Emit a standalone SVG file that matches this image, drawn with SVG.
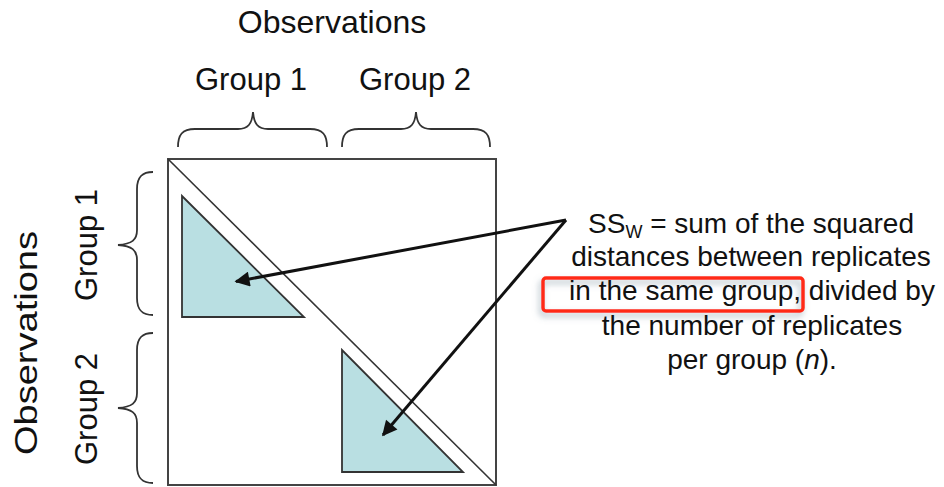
<svg xmlns="http://www.w3.org/2000/svg" width="944" height="487" viewBox="0 0 944 487">
<style>
text{font-family:"Liberation Sans",Arial,sans-serif;fill:#111}
.lab{font-size:31px}
.big{font-size:32px}
.note{font-size:28px;text-anchor:middle}
.brace{fill:none;stroke:#333;stroke-width:1.8}
.tri{fill:#b9dfe2;stroke:#333;stroke-width:1.8}
.frame{fill:#fff;stroke:#444;stroke-width:2}
.arrow{stroke:#111;stroke-width:3;fill:none;marker-end:url(#ah)}
</style>
<defs>
<marker id="ah" viewBox="0 0 10 10" refX="9" refY="5" markerWidth="5.5" markerHeight="5" orient="auto" markerUnits="strokeWidth">
<path d="M0,0 L10,5 L0,10 Z" fill="#111"/>
</marker>
<filter id="sh" x="-10%" y="-40%" width="120%" height="180%">
<feDropShadow dx="-2" dy="4" stdDeviation="3" flood-color="#6f8797" flood-opacity="0.55"/>
</filter>
</defs>
<rect width="944" height="487" fill="#fff"/>

<g id="title-top"><text class="big" x="332" y="33" text-anchor="middle">Observations</text></g>
<g id="col-group1"><text class="lab" x="251" y="90" text-anchor="middle">Group 1</text></g>
<g id="col-group2"><text class="lab" x="415" y="90" text-anchor="middle">Group 2</text></g>
<g id="title-left"><text class="big" transform="translate(37,343) rotate(-90)" text-anchor="middle" textLength="224" lengthAdjust="spacingAndGlyphs">Observations</text></g>
<g id="row-group1"><text class="lab" transform="translate(97,245) rotate(-90)" text-anchor="middle">Group 1</text></g>
<g id="row-group2"><text class="lab" transform="translate(97,409) rotate(-90)" text-anchor="middle">Group 2</text></g>

<g id="braces">
<path class="brace" d="M178,147 C178,135 182,129 195,129 L238,129 C248,129 252,124 253,112 C254,124 258,129 268,129 L310,129 C323,129 327,135 327,147"/>
<path class="brace" d="M342,147 C342,135 346,129 359,129 L401,129 C411,129 415,124 416,112 C417,124 421,129 431,129 L473,129 C486,129 490,135 490,147"/>
<path class="brace" d="M153,172 C143,172 137,176 137,189 L137,230 C137,240 132,244 118,245 C132,246 137,250 137,260 L137,298 C137,311 143,315 153,315"/>
<path class="brace" d="M153,333 C143,333 137,337 137,350 L137,393 C137,403 132,407 118,408 C132,409 137,413 137,423 L137,466 C137,479 143,483 153,483"/>
</g>

<g id="matrix">
<rect class="frame" x="168" y="159" width="328" height="326"/>
<line x1="168" y1="159" x2="496" y2="485" stroke="#333" stroke-width="1.6"/>
</g>
<g id="triangle1"><polygon class="tri" points="182,196 182,317 304,317"/></g>
<g id="triangle2"><polygon class="tri" points="342,350 342,472 463,472"/></g>

<g id="connectors">
<line class="arrow" x1="566" y1="220" x2="236" y2="281.5"/>
<line class="arrow" x1="566" y1="220" x2="383" y2="435"/>
</g>

<g id="highlight"><rect x="543" y="278" width="260" height="33" rx="3" fill="none" stroke="#ff2a14" stroke-width="3.5" filter="url(#sh)"/></g>

<g id="note">
<text class="note" x="751" y="233">SS<tspan font-size="18" dy="5">W</tspan><tspan dy="-5"> = sum of the squared</tspan></text>
<text class="note" x="751" y="266">distances between replicates</text>
<text class="note" x="752" y="300">in the same group, divided by</text>
<text class="note" x="752" y="335">the number of replicates</text>
<text class="note" x="752" y="369">per group (<tspan font-style="italic">n</tspan>).</text>
</g>
</svg>
